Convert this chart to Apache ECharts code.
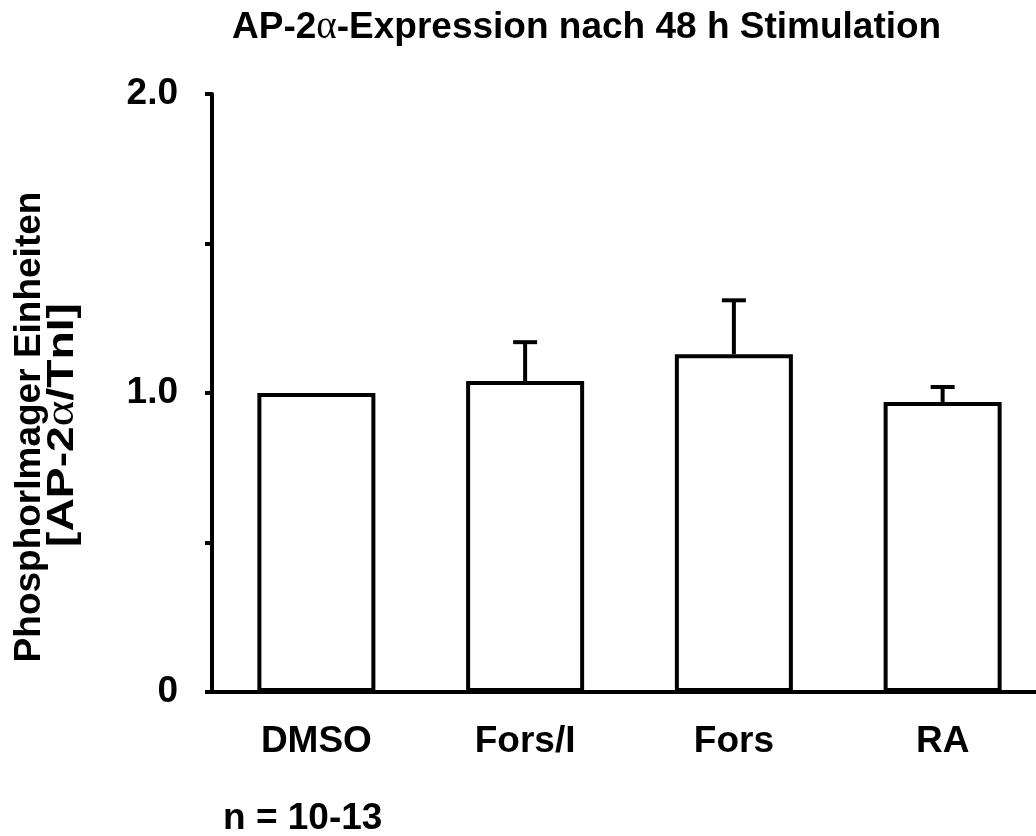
<!DOCTYPE html>
<html>
<head>
<meta charset="utf-8">
<script src="https://cdn.jsdelivr.net/npm/echarts@6/dist/echarts.min.js"></script>
<style>html,body{margin:0;padding:0;background:#fff;}#c{width:1036px;height:836px;}</style>
</head>
<body>
<div id="c"></div>
<script>
const categories = ['DMSO', 'Fors/I', 'Fors', 'RA'];
const means = [1.00, 1.04, 1.13, 0.97];
const upperErrors = [1.00, 1.17, 1.31, 1.02];
const yTickLabels = {0: '0', 1: '1.0', 2: '2.0'};
const titleText = 'AP-2{a|α}-Expression nach 48 h Stimulation';
const yTitleLine1 = 'PhosphorImager Einheiten';
const yTitleLine2 = '[AP-2{a|α}/TnI]';
const noteText = 'n = 10-13';

const FONT = '"Liberation Sans", Arial, sans-serif';
const FS = 37;
const alphaRich = { a: { fontFamily: '"Liberation Serif", serif', fontWeight: 'normal', fontSize: FS + 2, fill: '#000', color: '#000' } };

const chart = echarts.init(document.getElementById('c'), null, { renderer: 'canvas' });
chart.setOption({
  animation: false,
  backgroundColor: '#fff',
  title: {
    text: titleText,
    left: 227, top: 3,
    textStyle: { fontFamily: FONT, fontWeight: 'bold', fontSize: FS, color: '#000', rich: { a: { fontFamily: '"Liberation Serif", serif', fontWeight: 'normal', fontSize: FS + 2, color: '#000' } } }
  },
  grid: { left: 212, right: -11, top: 94, bottom: 144, containLabel: false, outerBoundsMode: 'none' },
  xAxis: {
    type: 'category', data: categories,
    axisLine: { lineStyle: { color: '#000', width: 4 } },
    axisTick: { show: false },
    axisLabel: { fontFamily: FONT, fontWeight: 'bold', fontSize: FS, color: '#000', margin: 31 }
  },
  yAxis: {
    type: 'value', min: 0, max: 2, interval: 0.5,
    splitLine: { show: false },
    axisLine: { show: true, lineStyle: { color: '#000', width: 4 } },
    axisTick: { show: true, length: 7, lineStyle: { color: '#000', width: 4 } },
    axisLabel: {
      fontFamily: FONT, fontWeight: 'bold', fontSize: FS, color: '#000', margin: 34,
      padding: [14, 0, 0, 0],
      formatter: v => (yTickLabels[v] !== undefined ? yTickLabels[v] : '')
    }
  },
  series: [
    {
      type: 'bar', data: means, barWidth: 118,
      itemStyle: { color: '#fff', borderColor: '#000', borderWidth: 4 },
      z: 2
    },
    {
      type: 'custom', z: 3,
      data: upperErrors.map((u, i) => [i, means[i], u]),
      renderItem: function (params, api) {
        const i = api.value(0);
        const top = api.coord([i, api.value(2)]);
        const base = api.coord([i, api.value(1)]);
        if (api.value(2) <= api.value(1)) return { type: 'group', children: [] };
        const half = 12;
        return {
          type: 'group',
          children: [
            { type: 'line', shape: { x1: base[0], y1: base[1], x2: top[0], y2: top[1] }, style: { stroke: '#000', lineWidth: 4 } },
            { type: 'line', shape: { x1: top[0] - half, y1: top[1], x2: top[0] + half, y2: top[1] }, style: { stroke: '#000', lineWidth: 4 } }
          ]
        };
      }
    }
  ],
  graphic: [
    {
      type: 'text', x: 30, y: 427, rotation: Math.PI / 2,
      style: { text: yTitleLine1, font: 'bold ' + FS + 'px ' + FONT, fill: '#000', align: 'center', verticalAlign: 'middle' }
    },
    {
      type: 'text', x: 63, y: 425, rotation: Math.PI / 2, scaleX: 1.25,
      style: { text: yTitleLine2, font: 'bold ' + FS + 'px ' + FONT, fill: '#000', align: 'center', verticalAlign: 'middle', rich: alphaRich }
    },
    {
      type: 'text', x: 223, y: 819,
      style: { text: noteText, font: 'bold ' + FS + 'px ' + FONT, fill: '#000', align: 'left', verticalAlign: 'middle' }
    }
  ]
});
</script>
</body>
</html>
